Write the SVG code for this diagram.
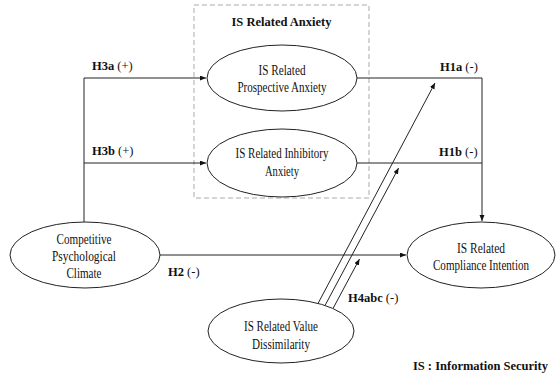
<svg xmlns="http://www.w3.org/2000/svg" width="560" height="376" viewBox="0 0 560 376">
<style>
.bg{fill:#fff}
.node{fill:#fff;stroke:#222;stroke-width:1}
.t{font-family:"Liberation Serif","Times New Roman",serif;font-size:14px;fill:#111;text-anchor:middle}
.lb{font-family:"Liberation Serif","Times New Roman",serif;font-size:12.5px;fill:#111}
.b{font-weight:bold}
.conn{fill:none;stroke:#222;stroke-width:1}
.box{fill:none;stroke:#aaa;stroke-width:1;stroke-dasharray:5 3}
</style>
<defs>
<marker id="ah" markerUnits="userSpaceOnUse" markerWidth="7" markerHeight="6" refX="6" refY="2.5" orient="auto">
<path d="M0,0 L6,2.5 L0,5 z" fill="#111"/>
</marker>
</defs>
<rect class="bg" x="0" y="0" width="560" height="376"/>
<g id="anxiety-group">
<rect class="box" x="194" y="5" width="175" height="193"/>
<text class="lb b" x="281.5" y="26" text-anchor="middle">IS Related Anxiety</text>
</g>
<g id="connectors">
<path class="conn" d="M84,222 V78 H206" marker-end="url(#ah)"/>
<path class="conn" d="M84,163 H206" marker-end="url(#ah)"/>
<path class="conn" d="M357,78 H482 V221" marker-end="url(#ah)"/>
<path class="conn" d="M357,163 H482"/>
<path class="conn" d="M159,255 H406" marker-end="url(#ah)"/>
<path class="conn" d="M318,303.5 L435,83" marker-end="url(#ah)"/>
<path class="conn" d="M325,305.5 L398.6,168" marker-end="url(#ah)"/>
<path class="conn" d="M333,308.5 L359.5,259" marker-end="url(#ah)"/>
</g>
<g id="labels">
<text class="lb" x="92" y="70"><tspan class="b">H3a</tspan> (+)</text>
<text class="lb" x="92" y="155"><tspan class="b">H3b</tspan> (+)</text>
<text class="lb" x="440" y="71"><tspan class="b">H1a</tspan> (-)</text>
<text class="lb" x="439" y="156"><tspan class="b">H1b</tspan> (-)</text>
<text class="lb" x="168" y="276"><tspan class="b">H2</tspan> (-)</text>
<text class="lb" x="348" y="302"><tspan class="b">H4abc</tspan> (-)</text>
<text class="lb b" x="548" y="370" text-anchor="end">IS : Information Security</text>
</g>
<g id="prospective">
<ellipse class="node" cx="282" cy="78" rx="75" ry="33"/>
<text class="t" x="282" y="75" textLength="47" lengthAdjust="spacingAndGlyphs">IS Related</text>
<text class="t" x="282" y="92" textLength="89" lengthAdjust="spacingAndGlyphs">Prospective Anxiety</text>
</g>
<g id="inhibitory">
<ellipse class="node" cx="282" cy="163" rx="75" ry="34"/>
<text class="t" x="282" y="158" textLength="93" lengthAdjust="spacingAndGlyphs">IS Related Inhibitory</text>
<text class="t" x="282" y="176" textLength="34" lengthAdjust="spacingAndGlyphs">Anxiety</text>
</g>
<g id="competitive">
<ellipse class="node" cx="85" cy="255" rx="75" ry="33"/>
<text class="t" x="84" y="244" textLength="55" lengthAdjust="spacingAndGlyphs">Competitive</text>
<text class="t" x="84" y="261" textLength="64" lengthAdjust="spacingAndGlyphs">Psychological</text>
<text class="t" x="84" y="278" textLength="35" lengthAdjust="spacingAndGlyphs">Climate</text>
</g>
<g id="compliance">
<ellipse class="node" cx="481" cy="255" rx="74" ry="33"/>
<text class="t" x="481" y="253" textLength="48" lengthAdjust="spacingAndGlyphs">IS Related</text>
<text class="t" x="481" y="270" textLength="96" lengthAdjust="spacingAndGlyphs">Compliance Intention</text>
</g>
<g id="dissimilarity">
<ellipse class="node" cx="281" cy="331" rx="73" ry="32"/>
<text class="t" x="281" y="331" textLength="74" lengthAdjust="spacingAndGlyphs">IS Related Value</text>
<text class="t" x="281" y="349" textLength="58" lengthAdjust="spacingAndGlyphs">Dissimilarity</text>
</g>
</svg>
